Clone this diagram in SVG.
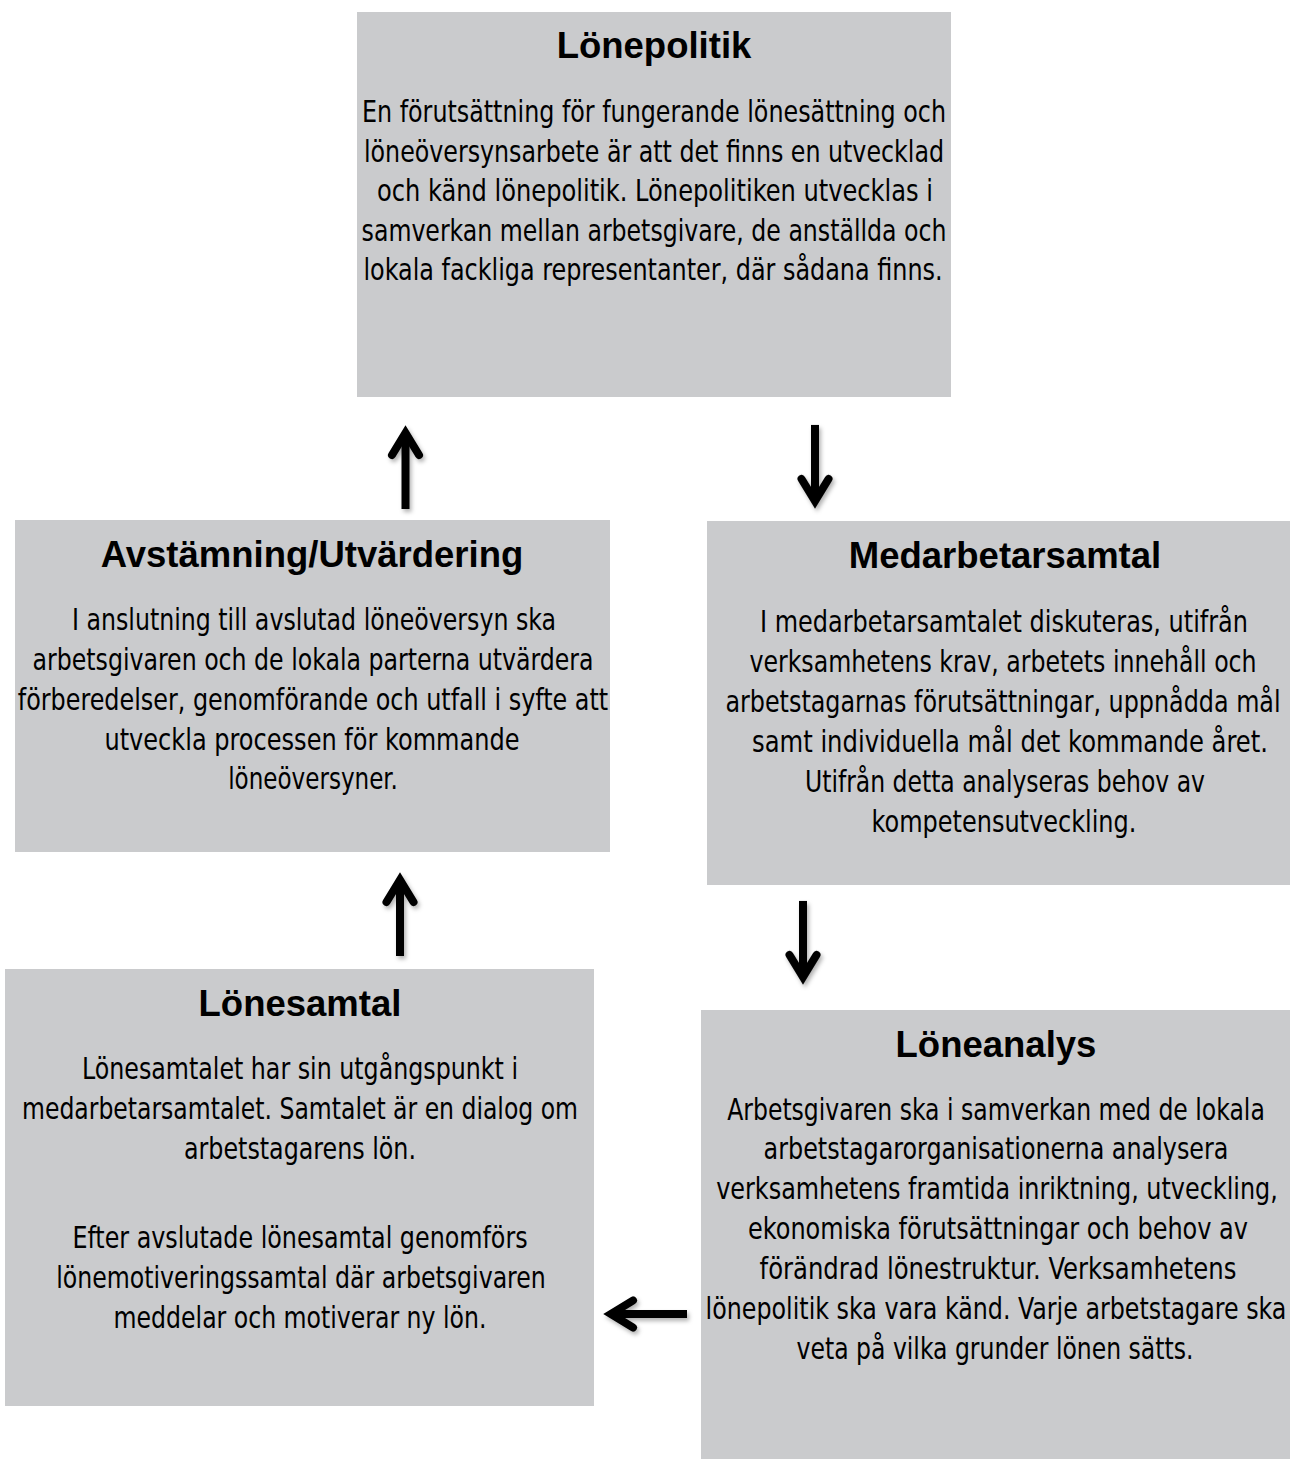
<svg xmlns="http://www.w3.org/2000/svg" xmlns:xlink="http://www.w3.org/1999/xlink" width="1290" height="1459" viewBox="0 0 1290 1459">
<style>
.box{fill:#CACBCD;}
.title{font-family:"Liberation Sans",Arial,sans-serif;font-weight:bold;font-size:36.5px;fill:#000;text-anchor:middle;}
.body{font-family:"Liberation Sans Narrow","DejaVu Sans Condensed","Liberation Sans",sans-serif;font-size:31px;fill:#000;text-anchor:middle;}
.shaft{stroke:#000;stroke-width:8;fill:none;}
.head{stroke:#000;stroke-width:8;fill:none;stroke-linecap:round;stroke-linejoin:miter;stroke-miterlimit:10;}
</style>
<defs>
<filter id="sh" x="-50%" y="-50%" width="200%" height="200%">
<feDropShadow dx="2" dy="3" stdDeviation="2" flood-color="#000" flood-opacity="0.3"/>
</filter>
<g id="arrowUp">
<path class="shaft" d="M0,10 L0,84"/>
<path class="head" d="M-13.5,30 L0,8 L13.5,30"/>
</g>
</defs>
<rect width="1290" height="1459" fill="#fff"/>

<g id="node-lonepolitik">
<rect class="box" x="357" y="12" width="594" height="385"/>
<text class="title" x="654" y="58">Lönepolitik</text>
<text class="body" transform="translate(654,122) scale(0.8,1)" textLength="730" lengthAdjust="spacingAndGlyphs">En förutsättning för fungerande lönesättning och</text>
<text class="body" transform="translate(654,162) scale(0.8,1)" textLength="725" lengthAdjust="spacingAndGlyphs">löneöversynsarbete är att det finns en utvecklad</text>
<text class="body" transform="translate(655,201) scale(0.8,1)" textLength="695" lengthAdjust="spacingAndGlyphs">och känd lönepolitik. Lönepolitiken utvecklas i</text>
<text class="body" transform="translate(654,241) scale(0.8,1)" textLength="731" lengthAdjust="spacingAndGlyphs">samverkan mellan arbetsgivare, de anställda och</text>
<text class="body" transform="translate(653,280) scale(0.8,1)" textLength="724" lengthAdjust="spacingAndGlyphs">lokala fackliga representanter, där sådana finns.</text>
</g>

<g id="node-avstamning">
<rect class="box" x="15" y="520" width="595" height="332"/>
<text class="title" x="312" y="567">Avstämning/Utvärdering</text>
<text class="body" transform="translate(314,630) scale(0.8,1)" textLength="605" lengthAdjust="spacingAndGlyphs">I anslutning till avslutad löneöversyn ska</text>
<text class="body" transform="translate(313,670) scale(0.8,1)" textLength="701" lengthAdjust="spacingAndGlyphs">arbetsgivaren och de lokala parterna utvärdera</text>
<text class="body" transform="translate(313,710) scale(0.8,1)" textLength="738" lengthAdjust="spacingAndGlyphs">förberedelser, genomförande och utfall i syfte att</text>
<text class="body" transform="translate(312,750) scale(0.8,1)" textLength="519" lengthAdjust="spacingAndGlyphs">utveckla processen för kommande</text>
<text class="body" transform="translate(313,789) scale(0.8,1)" textLength="212" lengthAdjust="spacingAndGlyphs">löneöversyner.</text>
</g>

<g id="node-medarbetarsamtal">
<rect class="box" x="707" y="521" width="583" height="364"/>
<text class="title" x="1005" y="568">Medarbetarsamtal</text>
<text class="body" transform="translate(1004,632) scale(0.8,1)" textLength="610" lengthAdjust="spacingAndGlyphs">I medarbetarsamtalet diskuteras, utifrån</text>
<text class="body" transform="translate(1003,672) scale(0.8,1)" textLength="634" lengthAdjust="spacingAndGlyphs">verksamhetens krav, arbetets innehåll och</text>
<text class="body" transform="translate(1003,712) scale(0.8,1)" textLength="694" lengthAdjust="spacingAndGlyphs">arbetstagarnas förutsättningar, uppnådda mål</text>
<text class="body" transform="translate(1010,752) scale(0.8,1)" textLength="645" lengthAdjust="spacingAndGlyphs">samt individuella mål det kommande året.</text>
<text class="body" transform="translate(1005,792) scale(0.8,1)" textLength="500" lengthAdjust="spacingAndGlyphs">Utifrån detta analyseras behov av</text>
<text class="body" transform="translate(1004,832) scale(0.8,1)" textLength="331" lengthAdjust="spacingAndGlyphs">kompetensutveckling.</text>
</g>

<g id="node-lonesamtal">
<rect class="box" x="5" y="969" width="589" height="437"/>
<text class="title" x="300" y="1016">Lönesamtal</text>
<text class="body" transform="translate(300,1079) scale(0.8,1)" textLength="545" lengthAdjust="spacingAndGlyphs">Lönesamtalet har sin utgångspunkt i</text>
<text class="body" transform="translate(300,1119) scale(0.8,1)" textLength="695" lengthAdjust="spacingAndGlyphs">medarbetarsamtalet. Samtalet är en dialog om</text>
<text class="body" transform="translate(300,1159) scale(0.8,1)" textLength="290" lengthAdjust="spacingAndGlyphs">arbetstagarens lön.</text>
<text class="body" transform="translate(300,1248) scale(0.8,1)" textLength="569" lengthAdjust="spacingAndGlyphs">Efter avslutade lönesamtal genomförs</text>
<text class="body" transform="translate(301,1288) scale(0.8,1)" textLength="612" lengthAdjust="spacingAndGlyphs">lönemotiveringssamtal där arbetsgivaren</text>
<text class="body" transform="translate(300,1328) scale(0.8,1)" textLength="466" lengthAdjust="spacingAndGlyphs">meddelar och motiverar ny lön.</text>
</g>

<g id="node-loneanalys">
<rect class="box" x="701" y="1010" width="589" height="449"/>
<text class="title" x="996" y="1057">Löneanalys</text>
<text class="body" transform="translate(996,1120) scale(0.8,1)" textLength="672" lengthAdjust="spacingAndGlyphs">Arbetsgivaren ska i samverkan med de lokala</text>
<text class="body" transform="translate(996,1159) scale(0.8,1)" textLength="581" lengthAdjust="spacingAndGlyphs">arbetstagarorganisationerna analysera</text>
<text class="body" transform="translate(997,1199) scale(0.8,1)" textLength="702" lengthAdjust="spacingAndGlyphs">verksamhetens framtida inriktning, utveckling,</text>
<text class="body" transform="translate(998,1239) scale(0.8,1)" textLength="625" lengthAdjust="spacingAndGlyphs">ekonomiska förutsättningar och behov av</text>
<text class="body" transform="translate(998,1279) scale(0.8,1)" textLength="596" lengthAdjust="spacingAndGlyphs">förändrad lönestruktur. Verksamhetens</text>
<text class="body" transform="translate(996,1319) scale(0.8,1)" textLength="726" lengthAdjust="spacingAndGlyphs">lönepolitik ska vara känd. Varje arbetstagare ska</text>
<text class="body" transform="translate(995,1359) scale(0.8,1)" textLength="496" lengthAdjust="spacingAndGlyphs">veta på vilka grunder lönen sätts.</text>
</g>

<g id="connectors" filter="url(#sh)">
<use xlink:href="#arrowUp" transform="translate(405.5,425)"/>
<use xlink:href="#arrowUp" transform="translate(815,509) rotate(180)"/>
<use xlink:href="#arrowUp" transform="translate(803,985) rotate(180)"/>
<use xlink:href="#arrowUp" transform="translate(400,872)"/>
<use xlink:href="#arrowUp" transform="translate(603,1314) rotate(-90)"/>
</g>
</svg>
